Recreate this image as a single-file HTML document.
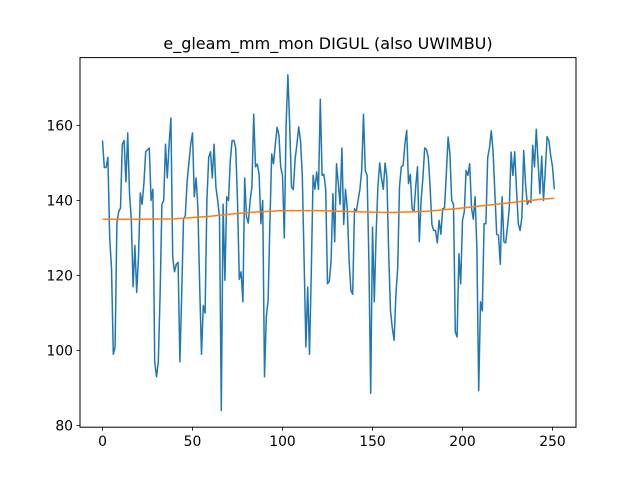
<!DOCTYPE html>
<html><head><meta charset="utf-8"><style>
body{margin:0;background:#fff;}
svg{display:block;font-family:"DejaVu Sans","Liberation Sans",sans-serif;}
</style></head><body>
<svg id="chart" width="640" height="480" viewBox="0 0 640 480" xmlns="http://www.w3.org/2000/svg">
<rect width="640" height="480" fill="#fff"/>
<text x="328" y="49" text-anchor="middle" font-size="16">e_gleam_mm_mon DIGUL (also UWIMBU)</text>
<g id="grid"></g>
<g id="series"></g>
<rect x="80" y="57.6" width="496" height="369.6" fill="none" stroke="#000" stroke-width="1"/>
</svg>
<script>
const values = [156,148.8,148.8,151.5,130,122,99,101,134,137,138,155,156,145,158,142,135,117,128,115.5,125,142,139,144.5,153,153.5,154,140,143,97,93,97,115,139,140,155,146,155,162,125,121,123,123.5,97,115,135,136,145,150,155,158,141,146,138,117,99,112,110,140,151.5,153,146,155,
143.6,140,135.6,84,139,118.7,141,140,150.7,156,156,154,140,119,121,113,146,135.6,134,140,143.6,163,149,149.7,147,133.8,140,93,109,113.3,134,152.4,149.8,155,159.5,157.5,148.9,146.7,130,160,173.5,160,143.6,142.9,151,155,159.6,156,146.7,124,101,116.9,99,121,146.7,143,147.6,143,167,146.7,147,143,117.8,
118.5,124,141.8,129,149.8,144.5,139,154,133.6,143,137.8,124,116,115,137.8,137,140,143,148,163,148,146.7,124,88.6,132.9,113,131,143.6,150,146,143,150,146,125.8,110.6,106,102.7,115,122,143.6,149,149.3,155,158.7,144.5,147,137.8,137,143.6,149,129,140,146,154,153.6,151.5,143.6,133.6,132,132,128.7,134.7,
131,137.8,138,147,156.9,152.4,140,139,105,103.6,125.8,117.8,134.7,137,148,146.7,149.8,138,135,141,127,89.3,113,110.6,133.8,133.8,151.5,154,158.6,153,141.8,131,130.7,123,141,129,128.7,133,138,152.9,146.7,153,143,133.8,132,135.6,153.3,144.5,139,140,139.5,154.7,149,159,150,141.8,151.8,140,148,157,156,152,149,143];
const trendIdx = [0,20,40,60,80,100,120,140,160,180,200,215,230,245,251];
const trendVal = [135,135,135.1,135.8,136.8,137.3,137.3,137,136.8,137.1,138,138.8,139.6,140.4,140.6];
const yTicks = [80,100,120,140,160];
const xTicks = [0,50,100,150,200,250];

const NS="http://www.w3.org/2000/svg";
const X = i => 102.5 + i*1.8;
const Y = v => 200.5 + (140 - v)*3.75;
const svg=document.getElementById('chart');
const grid=document.getElementById('grid');
const ser=document.getElementById('series');
function mk(tag,attrs,parent){const e=document.createElementNS(NS,tag);for(const k in attrs)e.setAttribute(k,attrs[k]);parent.appendChild(e);return e;}
yTicks.forEach(t=>{
  const y=Y(t);
  const l=mk('line',{x1:76.5,x2:80,y1:y,y2:y,stroke:'#000','stroke-width':0.8},grid);
  
  
  const tx=mk('text',{x:73,y:y+5,'text-anchor':'end','font-size':'13.9'},grid);
  tx.textContent=t;
  
  
});
xTicks.forEach(t=>{
  const x=X(t);
  const l=mk('line',{x1:x,x2:x,y1:427.2,y2:430.7,stroke:'#000','stroke-width':0.8},grid);
  
  
  const tx=mk('text',{x:x,y:446,'text-anchor':'middle','font-size':'13.9'},grid);
  tx.textContent=t;
  
  
});
const p1=mk('polyline',{points:values.map((v,i)=>X(i).toFixed(1)+','+Y(v).toFixed(1)).join(' '),fill:'none',stroke:'#1f77b4','stroke-width':1.5,'stroke-linejoin':'round'},ser);


const p2=mk('polyline',{points:trendIdx.map((t,i)=>X(t).toFixed(1)+','+Y(trendVal[i]).toFixed(1)).join(' '),fill:'none',stroke:'#ff7f0e','stroke-width':1.5},ser);


</script>
</body></html>
